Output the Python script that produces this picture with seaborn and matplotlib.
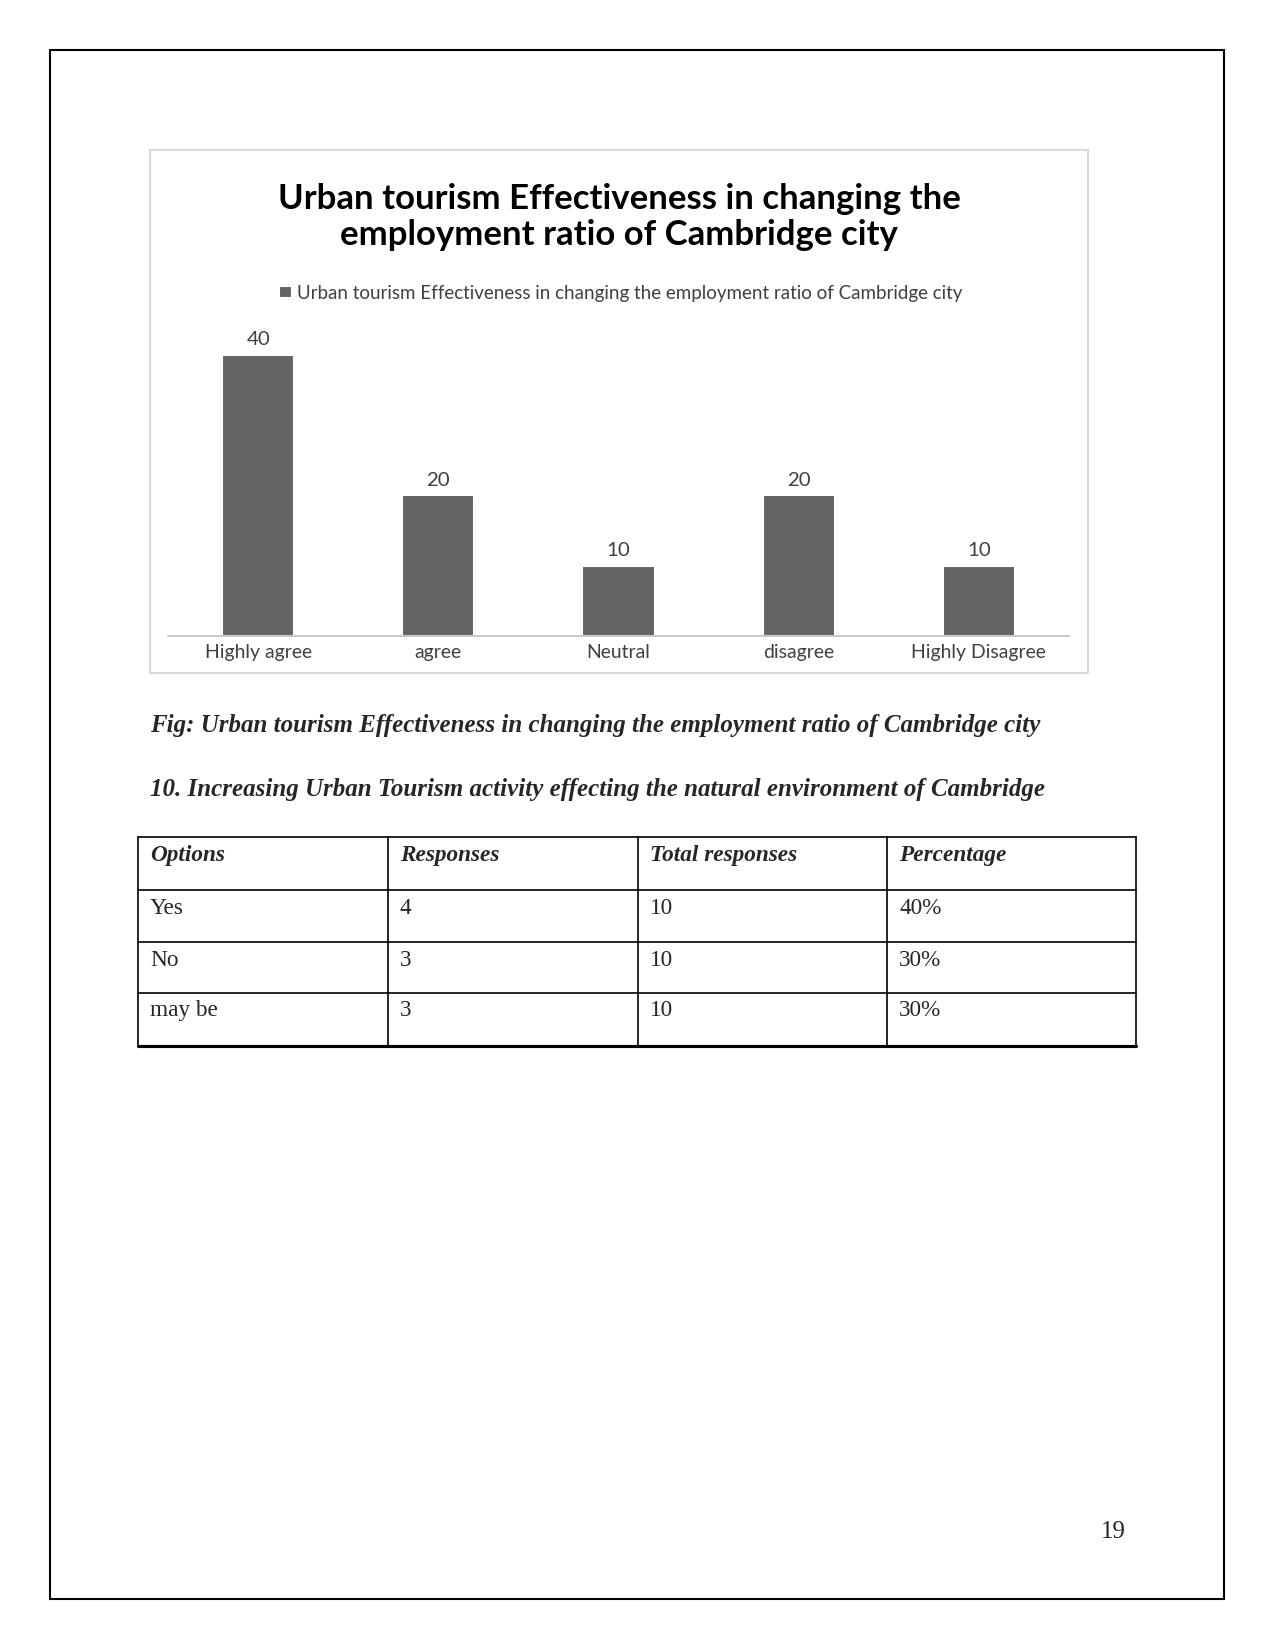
import matplotlib
matplotlib.use("Agg")
import matplotlib.pyplot as plt
import seaborn as sns
import pandas as pd
from matplotlib.patches import Rectangle
from matplotlib.lines import Line2D

# ---- data ----
categories = ["Highly agree", "agree", "Neutral", "disagree", "Highly Disagree"]
values = [40, 20, 10, 20, 10]
series_name = "Urban tourism Effectiveness in changing the employment ratio of Cambridge city"
chart_title = "Urban tourism Effectiveness in changing the\nemployment ratio of Cambridge city"
fig_caption = "Fig: Urban tourism Effectiveness in changing the employment ratio of Cambridge city"
section_heading = "10. Increasing Urban Tourism activity effecting the natural environment of Cambridge"
table_header = ["Options", "Responses", "Total responses", "Percentage"]
table_options = ["Yes", "No", "may be"]
table_responses = ["4", "3", "3"]
table_totals = ["10", "10", "10"]
table_percent = ["40%", "30%", "30%"]
page_number = "19"

W, H = 1275, 1650
DPI = 150
sns.set_theme(style="white")
plt.rcParams["font.family"] = ["Lato", "DejaVu Sans"]

fig = plt.figure(figsize=(W / DPI, H / DPI), dpi=DPI)
fig.patch.set_facecolor("white")

def fx(x):
    return x / W

def fy(y):
    return 1 - y / H

# page border
fig.add_artist(Rectangle((fx(50), fy(1599)), fx(1224) - fx(50), fy(50) - fy(1599),
                         transform=fig.transFigure, fill=False, edgecolor="black", linewidth=1.0))
# chart box
fig.add_artist(Rectangle((fx(150), fy(673)), fx(1088) - fx(150), fy(150) - fy(673),
                         transform=fig.transFigure, fill=False, edgecolor="#d9d9d9", linewidth=1.0))

# ---- bar chart ----
ax_left, ax_right, ax_top, ax_bottom = 168, 1069, 310, 636
ax = fig.add_axes([fx(ax_left), fy(ax_bottom), fx(ax_right) - fx(ax_left), fy(ax_top) - fy(ax_bottom)])
df = pd.DataFrame({"category": categories, "value": values, "series": series_name})
sns.barplot(data=df, x="category", y="value", hue="series", palette=["#636363"],
            width=0.4, ax=ax, legend=True, saturation=1)
ax.set_ylim(0, 40 * (ax_bottom - ax_top) / (636 - 354.5))
ax.set_xlim(-0.5, 4.5)
for c in ax.containers:
    ax.bar_label(c, labels=[str(v) for v in values], padding=3, fontsize=9.8, color="#404040")
ax.set_xlabel("")
ax.set_ylabel("")
ax.set_yticks([])
ax.tick_params(axis="x", length=0, pad=4, labelsize=9.3, labelcolor="#404040")
for s in ["top", "right", "left"]:
    ax.spines[s].set_visible(False)
ax.spines["bottom"].set_color("#bfbfbf")
ax.spines["bottom"].set_linewidth(0.8)
ax.patch.set_alpha(0)
ax.legend(loc="center", bbox_to_anchor=(fx(621), fy(293)), bbox_transform=fig.transFigure,
          frameon=False, fontsize=9.0, handlelength=0.65, handleheight=0.65, handletextpad=0.3,
          labelcolor="#404040")

fig.text(fx(619), fy(217), chart_title, ha="center", va="center", fontsize=16.7,
         fontweight="bold", color="black", linespacing=1.15)

# ---- captions ----
serif = ["Liberation Serif", "DejaVu Serif"]
fig.text(fx(150), fy(725), fig_caption, ha="left", va="center", fontsize=12,
         fontweight="bold", fontstyle="italic", family=serif)
fig.text(fx(150), fy(789), section_heading, ha="left", va="center", fontsize=12,
         fontweight="bold", fontstyle="italic", family=serif)

# ---- table ----
col_x = [138, 388, 637.5, 887, 1136]
row_y = [837, 890, 942, 993, 1046]
for x in col_x:
    fig.add_artist(Line2D([fx(x), fx(x)], [fy(row_y[0]), fy(row_y[-1])], transform=fig.transFigure,
                          color="black", linewidth=0.8))
for i, y in enumerate(row_y):
    fig.add_artist(Line2D([fx(col_x[0]), fx(col_x[-1])], [fy(y), fy(y)], transform=fig.transFigure,
                          color="black", linewidth=1.5 if i == len(row_y) - 1 else 0.8))
rows = [table_header] + [list(r) for r in zip(table_options, table_responses, table_totals, table_percent)]
for ri, row in enumerate(rows):
    for ci, cell in enumerate(row):
        kw = dict(fontweight="bold", fontstyle="italic") if ri == 0 else {}
        fig.text(fx(col_x[ci] + 12), fy(row_y[ri] + 18), cell, ha="left", va="center",
                 fontsize=11.2, family=serif, **kw)

fig.text(fx(1113), fy(1532), page_number, ha="center", va="center", fontsize=12, family=serif)

fig.savefig("out.png", dpi=DPI, facecolor="white")
